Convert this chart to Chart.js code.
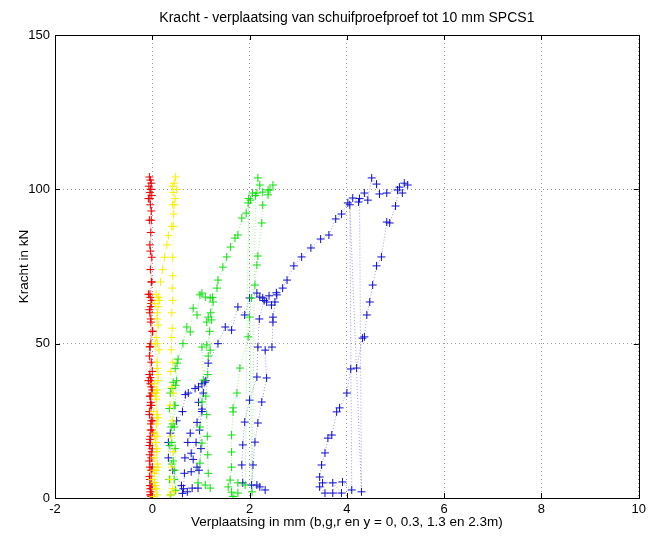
<!DOCTYPE html>
<html>
<head>
<meta charset="utf-8">
<script src="https://cdn.jsdelivr.net/npm/chart.js@4.4.1/dist/chart.umd.min.js"></script>
<style>
html,body{margin:0;padding:0;background:#fff;}
#wrap{width:650px;height:536px;}
</style>
</head>
<body>
<div id="wrap"><canvas id="c" width="650" height="536"></canvas></div>
<script>
const chartTitle = "Kracht - verplaatsing van schuifproefproef tot 10 mm SPCS1";
const xAxisTitle = "Verplaatsing in mm (b,g,r en y = 0, 0.3, 1.3 en 2.3m)";
const yAxisTitle = "Kracht in kN";
const xTicks = [-2, 0, 2, 4, 6, 8, 10];
const yTicks = [0, 50, 100, 150];

// blue series (b, y = 0)
const blueX = [0.62,0.60,0.42,0.33,0.33,0.37,0.5,0.62,0.68,0.74,0.88,0.95,1.02,1.08,
  0.95,1.02,0.92,0.78,0.73,0.9,0.8,0.67,0.84,0.92,0.8,0.66,0.64,0.72,0.82,0.94,
  0.96,1.0,0.97,1.02,1.05,1.1,1.15,1.35,1.5,1.63,1.76,1.9,2.0,2.15,2.21,2.27,2.35,2.45,2.52,2.56,
  2.48,2.48,2.46,2.32,2.35,2.25,2.17,2.11,2.07,2.04,2.15,2.21,2.32,
  1.86,1.84,1.86,1.9,2.0,2.15,2.17,2.2,2.3,2.4,2.55,
  2.68,2.77,2.91,3.07,3.26,3.46,3.63,3.77,3.89,4.02,4.12,4.24,4.36,4.43,4.51,4.61,4.67,4.82,5.04,5.14,5.25,5.18,5.08,
  5.0,4.88,4.82,4.71,4.61,4.53,4.47,4.41,4.36,4.32,4.2,4.08,4.0,3.85,3.79,3.69,3.61,3.55,3.48,3.44,3.44,3.55,3.71,3.89,3.71,3.5,3.91,4.1,
  4.06,4.3,4.26];
const blueY = [1.5,4,9,13,18,21,25,28,33.5,34,35.5,36,37,37.5,
  31,28.8,24.5,21,18,18,14.5,13,12.5,10,8.5,8,3,2,3.2,3.2,
  9,16,22,28,34,38,43.7,50,55.4,54.4,61.9,59.3,64.8,66.4,65.1,64.8,63.5,62.5,63.5,65.8,
  58.6,57,48.9,47.9,38.9,31.1,24.3,18.1,10.7,4.2,4.2,3.6,2.6,
  4.9,10.7,17.2,24.6,31.7,39.2,48.9,58,64,65.5,66.5,
  68,70.6,75.2,78.1,81,83.9,85.2,90.4,92,95.6,97.2,95.9,98.8,96.5,103.7,101.7,98.5,98.8,99.8,98.8,101.4,102,100.7,
  94.6,89.1,89.4,78.1,75.2,69,63.5,59.3,52.2,51.8,42.1,41.8,34,29.2,27.9,20.4,19.4,14.6,10.7,6.8,3.6,1.6,1.6,1.6,4.9,4.9,5.2,2.6,
  95,2,97];

// green series (g, y = 0.3)
const greenX = [0.38,0.35,0.4,0.36,0.39,0.35,0.37,0.43,0.48,0.4,
  0.45,0.42,0.4,0.43,0.45,0.48,
  0.46,0.47,0.45,0.47,0.5,0.51,0.47,0.53,0.63,0.71,0.78,0.84,0.92,0.98,1.02,1.09,1.19,1.25,1.22,1.15,1.12,
  1.19,1.12,1.02,1.05,1.02,0.98,1.02,0.98,0.94,1.09,1.19,
  1.15,1.14,1.13,1.12,1.1,1.14,1.15,1.18,1.2,1.24,
  1.33,1.35,1.45,1.53,1.61,1.7,1.76,1.84,1.93,1.97,2.02,2.06,2.15,2.17,2.21,2.27,2.38,2.48,2.42,2.38,
  2.27,2.25,2.17,2.15,2.11,2.04,2.0,1.97,1.8,1.74,1.66,1.66,1.63,1.63,1.63,1.6,1.56,1.63,1.66,1.76,1.76,1.91,
  1.98,2.05,2.12];
const greenY = [1,6,11,17,23,29,34,37.5,36.5,35.5,
  30,24,18,12,6,2.5,
  9,16,23,30,38,43.7,42,45,50,55.4,53.8,61.5,59.3,65.8,66.4,65.1,64.8,63.5,57.7,58.6,57,
  47.9,49.6,48.9,38.2,31.1,23,17.8,11.3,4.9,4.2,3.2,
  8,14,20,27,33,40,46,54,60,65,
  68,70.6,74.8,78.1,81.3,84.2,85.2,90.7,92.3,95.6,96.5,98.8,98.8,103.7,101.4,99.1,99.8,101.4,99.8,98.2,
  94.9,89.1,78.4,75.5,69,64.8,58.6,52.2,42.1,34,29.2,27.9,20.4,14.9,10,5.8,3.6,1.9,0.5,1.6,4.9,4.2,
  97,2,98];

// yellow series (y, y = 2.3)
const yellowX = [0.02,0.06,0.0,0.08,0.04,0.1,0.05,0.09,0.03,0.08,0.1,0.04,0.12,
  0.07,0.1,0.05,0.09,0.03,0.07,0.1,
  0.05,0.1,0.06,0.12,0.08,0.12,0.1,0.14,0.08,0.12,0.1,0.05,0.12,0.15,0.08,
  0.1,0.06,0.1,0.05,0.1,0.07,0.12,0.08,
  0.05,0.1,0.09,0.1,0.12,0.13,0.17,0.21,0.25,0.3,0.33,0.4,0.44,0.42,0.47,0.43,0.5,0.45,0.48,0.41,
  0.45,0.43,0.42,0.42,0.41,0.42,0.4,0.41,0.4,0.39,0.42,0.38,0.4,0.44,0.37,0.41,0.39,0.43,0.4,0.38,0.42,0.36,0.45];
const yellowY = [0.5,3,6,9,13,16,20,24,28,32,35,37,38,
  33,27,21,15,9,4,1,
  5,11,18,26,34,40,44,48,52,56,60,63,65,64,66,
  58,50,42,34,26,18,10,3,
  8,20,35,50,62,65,70,74,78,82,85,88,92,95,97,99,100,102,104,101,
  95,88,78,72,68,64,60,55,52,48,44,41,36,34,30,25,20,15,10,6,3,1,2];

// red series (r, y = 1.3)
const redX = [-0.02,-0.04,0.0,-0.05,-0.02,-0.06,-0.01,-0.04,0.01,-0.03,-0.06,-0.02,-0.05,0.0,-0.04,-0.08,-0.02,
  -0.03,0.01,-0.05,-0.02,-0.06,-0.01,-0.04,
  -0.02,-0.05,0.0,-0.03,-0.06,-0.01,-0.04,-0.02,-0.05,0.01,-0.03,-0.06,-0.02,-0.04,-0.08,-0.01,
  -0.03,-0.05,0.0,-0.04,-0.02,-0.06,-0.01,-0.04,
  -0.02,-0.05,-0.01,-0.04,-0.02,-0.06,0.0,-0.03,-0.05,-0.02,-0.04,-0.01,-0.05,-0.03,-0.06,-0.02,-0.04,-0.08,-0.01,-0.05,-0.03,-0.07,-0.02,-0.04,-0.06,-0.03,-0.05,
  -0.02,-0.04,-0.01,-0.05,-0.03,-0.06,-0.02,-0.04,0.0,-0.05,-0.03];
const redY = [0.5,2,4,6,9,12,15,18,21,24,27,30,33,35,37,38,36,
  31,25,19,13,7,3,1,
  4,10,16,22,28,34,39,44,49,54,58,61,63,65,66,64,
  57,49,41,33,25,17,9,3,
  6,14,22,30,38,46,54,62,66,70,74,78,82,86,90,93,95,97,98,99,100,101,102,103,104,100,97,
  90,80,70,60,50,40,30,20,10,4,1];

function toPoints(xs, ys){ return xs.map((x,i)=>({x:x, y:ys[i]})); }

const FONT = "'Liberation Sans', Arial, Helvetica, sans-serif";

function series(label, xs, ys, color, lineColor, order){
  return {
    label: label,
    data: toPoints(xs, ys),
    showLine: true,
    borderColor: lineColor,
    backgroundColor: color,
    pointBorderColor: color,
    pointBackgroundColor: color,
    pointStyle: 'cross',
    pointRadius: 4,
    pointBorderWidth: 1,
    pointHoverRadius: 4,
    borderWidth: 0.7,
    borderDash: [1, 2],
    tension: 0,
    order: order
  };
}

const framePlugin = {
  id: 'frame',
  beforeDatasetsDraw(chart){
    const ctx = chart.ctx, a = chart.chartArea;
    const xs = chart.scales.x, ys = chart.scales.y;
    ctx.save();
    ctx.strokeStyle = '#000';
    ctx.lineWidth = 1;
    ctx.setLineDash([]);
    ctx.beginPath();
    xTicks.forEach(v=>{
      const p = Math.round(xs.getPixelForValue(v)) + 0.5;
      ctx.moveTo(p, a.bottom); ctx.lineTo(p, a.bottom - 5);
      ctx.moveTo(p, a.top); ctx.lineTo(p, a.top + 5);
    });
    yTicks.forEach(v=>{
      const p = Math.round(ys.getPixelForValue(v)) + 0.5;
      ctx.moveTo(a.left, p); ctx.lineTo(a.left + 5, p);
      ctx.moveTo(a.right, p); ctx.lineTo(a.right - 5, p);
    });
    ctx.stroke();
    ctx.strokeRect(Math.round(a.left)+0.5, Math.round(a.top)+0.5, Math.round(a.right-a.left), Math.round(a.bottom-a.top));
    ctx.restore();
  },
  afterDraw(chart){
    const ctx = chart.ctx, a = chart.chartArea;
    ctx.save();
    ctx.fillStyle = '#000';
    ctx.font = "14px " + FONT;
    ctx.textAlign = 'center';
    ctx.textBaseline = 'middle';
    ctx.fillText(chartTitle, (a.left + a.right) / 2, 18);
    ctx.restore();
  }
};

new Chart(document.getElementById('c'), {
  type: 'scatter',
  data: {
    datasets: [
      series('b', blueX, blueY, '#1010d0', 'rgba(16,16,208,0.6)', 4),
      series('g', greenX, greenY, '#10e010', 'rgba(16,224,16,0.6)', 3),
      series('r', redX, redY, '#f00000', 'rgba(240,0,0,0.6)', 2),
      series('y', yellowX, yellowY, '#f8f000', 'rgba(248,240,0,0.7)', 1)
    ]
  },
  options: {
    responsive: false,
    animation: false,
    devicePixelRatio: 1,
    layout: { padding: { left: 0, right: 9, top: 35, bottom: 0 } },
    plugins: {
      legend: { display: false },
      tooltip: { enabled: false },
      title: { display: false }
    },
    scales: {
      x: {
        type: 'linear',
        min: -2, max: 10,
        afterBuildTicks(s){ s.ticks = xTicks.map(v=>({value:v})); },
        afterFit(s){ s.height = 38; },
        ticks: { color: '#000', font: { family: FONT, size: 13 }, padding: 4, maxRotation: 0,
          callback: v => String(v) },
        grid: { drawTicks: false, color: 'rgba(0,0,0,0.4)', lineWidth: 1 },
        border: { display: false, dash: [1, 3] },
        title: { display: true, text: xAxisTitle, color: '#000',
          font: { family: FONT, size: 13.5 }, padding: { top: 0, bottom: 6 } }
      },
      y: {
        type: 'linear',
        min: 0, max: 150,
        afterBuildTicks(s){ s.ticks = yTicks.map(v=>({value:v})); },
        afterFit(s){ s.width = 55; },
        ticks: { color: '#000', font: { family: FONT, size: 13 }, padding: 5,
          callback: v => String(v) },
        grid: { drawTicks: false, color: 'rgba(0,0,0,0.4)', lineWidth: 1 },
        border: { display: false, dash: [1, 3] },
        title: { display: true, text: yAxisTitle, color: '#000',
          font: { family: FONT, size: 13.5 }, padding: { top: 16, bottom: 0 } }
      }
    }
  },
  plugins: [framePlugin]
});
</script>
</body>
</html>
